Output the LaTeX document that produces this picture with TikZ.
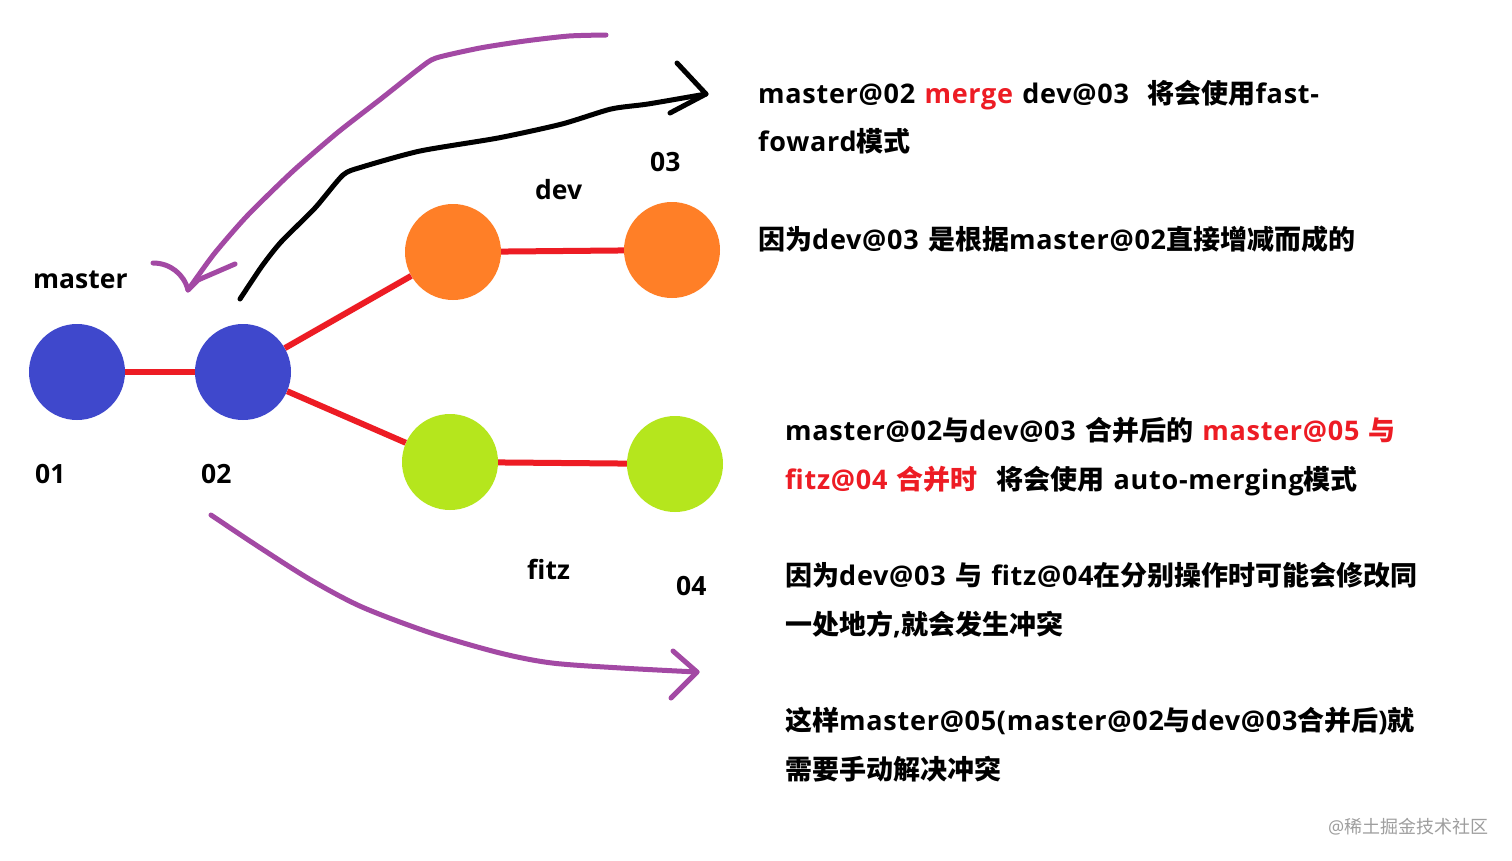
\documentclass[tikz,border=0pt]{standalone}
\usepackage{fontspec}
\setmainfont{Open Sans}[LetterSpace=2.7, WordSpace=1.2]
\newfontfamily\tagfont{Open Sans}
\newfontfamily\zhfont{Noto Sans CJK SC}
\usepackage{tikz}

\definecolor{commitblue}{HTML}{3F48CC}
\definecolor{devorange}{HTML}{FF7F27}
\definecolor{fitzgreen}{HTML}{B5E61D}
\definecolor{linkred}{HTML}{ED1C24}
\definecolor{penpurple}{HTML}{A349A4}

\newcommand\zh[1]{{\zhfont #1}}

\begin{document}
\begin{tikzpicture}[
  x=1pt, y=-1pt,
  commit/.style={circle, minimum size=96pt, inner sep=0pt},
  link/.style={draw=linkred, line width=6pt},
  pen/.style={line width=5pt, line cap=round, line join=round},
  lbl/.style={font=\tagfont\fontsize{26.5}{32}\selectfont\bfseries, anchor=base west, inner sep=0pt},
  note/.style={font=\fontsize{27}{32}\selectfont\bfseries, anchor=base west, inner sep=0pt},
  wmark/.style={font=\fontsize{18}{20}\selectfont, text=black!38, anchor=base west, inner sep=0pt}
]
  \fill[white] (0,0) rectangle (1512,860);
  \useasboundingbox (0,0) rectangle (1512,860);

  % commits
  \node[commit, fill=commitblue] (m01) at (77,372) {};
  \node[commit, fill=commitblue] (m02) at (243,372) {};
  \node[commit, fill=devorange] (dA) at (453,252) {};
  \node[commit, fill=devorange] (d03) at (672,250) {};
  \node[commit, fill=fitzgreen] (fA) at (450,462) {};
  \node[commit, fill=fitzgreen] (f04) at (675,464) {};

  \draw[link] (m01) -- (m02);
  \draw[link] (m02) -- (dA);
  \draw[link] (m02) -- (fA);
  \draw[link] (dA) -- (d03);
  \draw[link] (fA) -- (f04);

  % branch and commit labels
  \node[lbl] (lMaster) at (33,288) {master};
  \node[lbl] (l01) at (35,483) {01};
  \node[lbl] (l02) at (201,483) {02};
  \node[lbl] (lDev) at (535,199) {dev};
  \node[lbl] (l03) at (650,171) {03};
  \node[lbl] (lFitz) at (527,579) {fitz};
  \node[lbl] (l04) at (676,595) {04};

  % hand drawn strokes
  \coordinate (ffStart) at (240,299);
  \coordinate (ffTip) at (706,94);
  \draw[pen, black] plot[smooth, tension=0.4] coordinates {(ffStart) (262,266) (281,242) (315,208) (343,175) (362,167) (420,151) (498,138) (562,124) (611,109) (648,104) (ffTip)};
  \draw[pen, black] (677,63) -- (ffTip) -- (670,113);

  \coordinate (backStart) at (606,35);
  \coordinate (backTip) at (188,290);
  \draw[pen, penpurple] plot[smooth, tension=0.4] coordinates {(backStart) (569,36) (525,41) (480,48) (436,58) (420,68) (382,98) (337,133) (292,172) (247,216) (214,254) (backTip)};
  \draw[pen, penpurple] (153,263) .. controls (170,263) and (184,274) .. (backTip) -- (198,280) -- (235,264);

  \coordinate (mergeStart) at (211,515);
  \coordinate (mergeTip) at (697,672);
  \draw[pen, penpurple] plot[smooth, tension=0.5] coordinates {(mergeStart) (259,547) (311,580) (362,607) (431,633) (500,653) (552,663) (621,668) (mergeTip)};
  \draw[pen, penpurple] (673,651) -- (mergeTip) -- (671,698);

  % notes
  \node[note] (t1a) at (758,103) {master@02 \textcolor{linkred}{merge} dev@03\ \ \zh{将会使用}fast-};
  \node[note] (t1b) at (758,151) {foward\zh{模式}};
  \node[note] (t2) at (758,249) {\zh{因为}dev@03 \zh{是根据}master@02\zh{直接增减而成的}};
  \node[note] (t3a) at (785,440) {master@02\zh{与}dev@03 \zh{合并后的} \textcolor{linkred}{master@05 \zh{与}}};
  \node[note] (t3b) at (785,489) {\textcolor{linkred}{fitz@04 \zh{合并时}}\ \ \zh{将会使用} auto-merging\zh{模式}};
  \node[note] (t4a) at (785,585) {\zh{因为}dev@03 \zh{与} fitz@04\zh{在分别操作时可能会修改同}};
  \node[note] (t4b) at (785,634) {\zh{一处地方},\zh{就会发生冲突}};
  \node[note] (t5a) at (785,730) {\zh{这样}master@05(master@02\zh{与}dev@03\zh{合并后})\zh{就}};
  \node[note] (t5b) at (785,779) {\zh{需要手动解决冲突}};

  \node[wmark] (wm) at (1328,833) {@\zh{稀土掘金技术社区}};
\end{tikzpicture}
\end{document}
